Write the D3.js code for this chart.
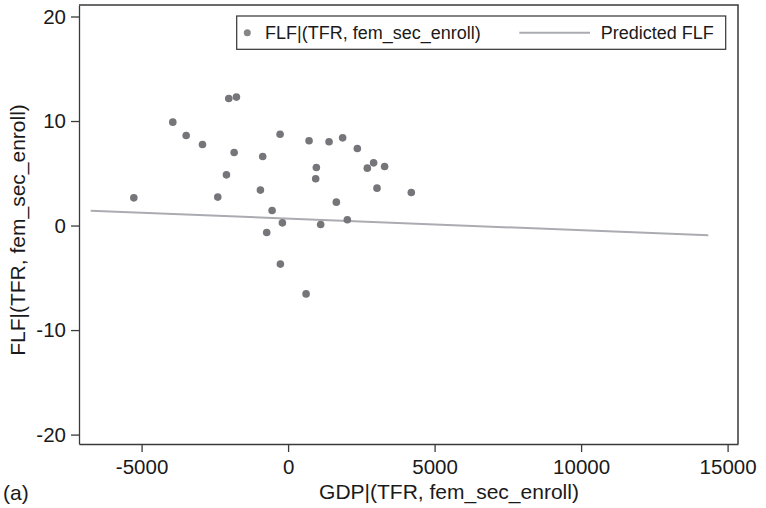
<!DOCTYPE html>
<html>
<head>
<meta charset="utf-8">
<script src="https://cdn.jsdelivr.net/npm/d3@7"></script>
<style>
  body { margin: 0; background: #fff; }
  text { font-family: "Liberation Sans", Arial, sans-serif; fill: #1a1a1a; }
</style>
</head>
<body>
<script>
//Width and height
var w = 766;
var h = 508;

// residuals (added variable plot)
var gdpResid = [-5265, -3935, -3478, -2922, -2025, -1763, -1841, -2104, -2400, -273, -866,
                -945, -546, -194, -730, -263, 716, 1398, 1862, 2363, 965, 942, 2704, 2919,
                3294, 3035, 4205, 1647, 1112, 2022, 614];
var flfResid = [2.65, 9.89, 8.61, 7.75, 12.15, 12.29, 6.99, 4.85, 2.72, 8.74, 6.60,
                3.39, 1.44, 0.26, -0.67, -3.69, 8.11, 8.01, 8.39, 7.37, 5.55, 4.47, 5.49, 6.0,
                5.65, 3.58, 3.16, 2.24, 0.10, 0.55, -6.54];

// fitted line
var predX = [-6737, 14341];
var predY = [1.42, -0.94];

var xTicks = [-5000, 0, 5000, 10000, 15000];
var yTicks = [-20, -10, 0, 10, 20];

// plot box (don't call it "top", that's window.top)
var pLeft = 79, pRight = 738, pTop = 5, pBottom = 444;

var x = d3.scaleLinear().domain([-7136, 15355]).range([pLeft, pRight]);
var y = d3.scaleLinear().domain([-20.9, 21.1]).range([pBottom, pTop]);

var svg = d3.select("body")
            .append("svg")
            .attr("width", w)
            .attr("height", h);

var plain = function(d) { return String(d); };

// axes
var xAxis = svg.append("g")
    .attr("transform", "translate(0," + pBottom + ")")
    .call(d3.axisBottom(x).tickValues(xTicks).tickFormat(plain).tickSize(8).tickPadding(6).tickSizeOuter(0));
var yAxis = svg.append("g")
    .attr("transform", "translate(" + pLeft + ",0)")
    .call(d3.axisLeft(y).tickValues(yTicks).tickFormat(plain).tickSize(8).tickPadding(5).tickSizeOuter(0));

[xAxis, yAxis].forEach(function(a) {
    a.selectAll("path, line").attr("stroke", "#3a3a3a").attr("stroke-width", 1.3);
    a.selectAll("text").style("font-size", "20.5px").attr("fill", "#1a1a1a");
});
xAxis.selectAll("text").attr("dy", "0.78em");

// frame top and right
svg.append("path")
    .attr("d", "M" + pLeft + "," + pTop + "H" + pRight + "V" + pBottom)
    .attr("fill", "none")
    .attr("stroke", "#3a3a3a")
    .attr("stroke-width", 1.5);

// prediction line
var line = d3.line()
    .x(function(d, i) { return x(predX[i]); })
    .y(function(d) { return y(d); });
svg.append("path")
    .datum(predY)
    .attr("d", line)
    .attr("fill", "none")
    .attr("stroke", "#abacb2")
    .attr("stroke-width", 2);

// points
svg.append("g").selectAll("circle")
    .data(gdpResid)
    .enter()
    .append("circle")
    .attr("cx", function(d) { return x(d); })
    .attr("cy", function(d, i) { return y(flfResid[i]); })
    .attr("r", 3.8)
    .attr("fill", "#76767a");

// legend
var lg = svg.append("g");
lg.append("rect")
    .attr("x", 236.7).attr("y", 16)
    .attr("width", 489).attr("height", 33.3)
    .attr("fill", "#fff")
    .attr("stroke", "#333")
    .attr("stroke-width", 1.2);
lg.append("circle").attr("cx", 247.3).attr("cy", 32.7).attr("r", 3.5).attr("fill", "#868688");
lg.append("text").attr("x", 265).attr("y", 39.3).style("font-size", "18px")
    .text("FLF|(TFR, fem_sec_enroll)");
lg.append("line")
    .attr("x1", 519.3).attr("x2", 590).attr("y1", 32.7).attr("y2", 32.7)
    .attr("stroke", "#abacb2").attr("stroke-width", 2);
lg.append("text").attr("x", 600.7).attr("y", 39.3).style("font-size", "18px")
    .text("Predicted FLF");

// axis titles
svg.append("text")
    .attr("x", 449).attr("y", 499)
    .attr("text-anchor", "middle")
    .style("font-size", "21px")
    .text("GDP|(TFR, fem_sec_enroll)");
svg.append("text")
    .attr("transform", "translate(25,230) rotate(-90)")
    .attr("text-anchor", "middle")
    .style("font-size", "21px")
    .text("FLF|(TFR, fem_sec_enroll)");

svg.append("text")
    .attr("x", 3).attr("y", 500)
    .style("font-size", "21px")
    .text("(a)");
</script>
</body>
</html>
